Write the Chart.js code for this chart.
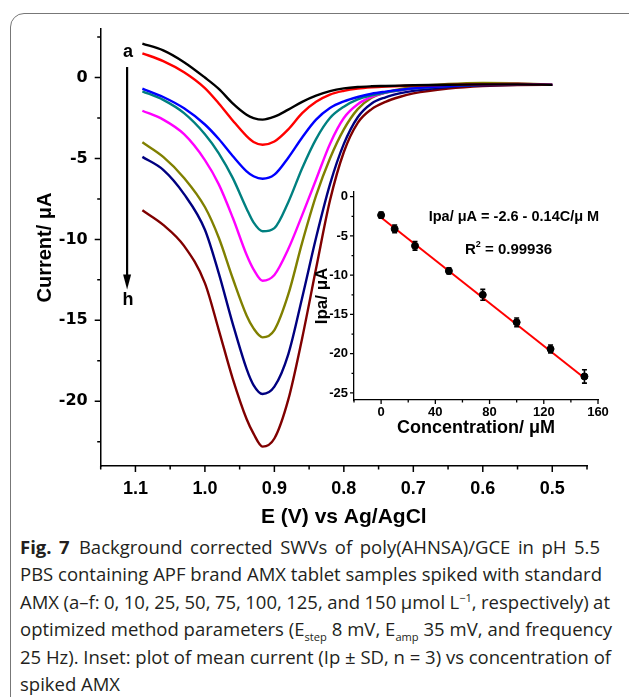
<!DOCTYPE html>
<html>
<head>
<meta charset="utf-8">
<script src="https://cdn.jsdelivr.net/npm/chart.js@4.4.1/dist/chart.umd.min.js"></script>
<style>
  html, body { margin: 0; padding: 0; background: #fff; }
  body { width: 629px; height: 697px; position: relative; overflow: hidden; }
  #frame { position: absolute; left: 10px; top: 13px; width: 640px; height: 720px; border: 1.5px solid #777; border-radius: 14px; box-sizing: border-box; }
  #main { position: absolute; left: 0; top: 0; }
  #inset { position: absolute; left: 300px; top: 175px; }
  #caption { position: absolute; left: 20px; top: 533px; width: 600px; font-family: "Open Sans", Lato, sans-serif; font-size: 17px; line-height: 27.4px; color: #231f20; }
  #caption div { white-space: nowrap; height: 27.4px; }
  #caption div span { display: inline-block; }
  #caption sub, #caption sup { font-size: 0.6em; line-height: 0; }
</style>
</head>
<body>
<div id="frame"></div>
<canvas id="main" width="629" height="530"></canvas>
<canvas id="inset" width="320" height="270"></canvas>
<div id="caption">
<div data-w="580"><span><b>Fig. 7</b>&ensp;Background corrected SWVs of poly(AHNSA)/GCE in pH 5.5</span></div>
<div data-w="582" id="refLine"><span>PBS containing APF brand AMX tablet samples spiked with standard</span></div>
<div data-w="590"><span>AMX (a–f: 0, 10, 25, 50, 75, 100, 125, and 150 µmol L<sup>−1</sup>, respectively) at</span></div>
<div data-w="592"><span>optimized method parameters (E<sub>step</sub> 8 mV, E<sub>amp</sub> 35 mV, and frequency</span></div>
<div data-w="591"><span>25 Hz). Inset: plot of mean current (Ip ± SD, n = 3) vs concentration of</span></div>
<div><span>spiked AMX</span></div>
</div>
<script>
// potential (V vs Ag/AgCl) shared by all voltammograms
const potential = [1.09, 1.06, 1.03, 1.00, 0.98, 0.96, 0.94, 0.93, 0.917, 0.90, 0.88, 0.86, 0.84, 0.82, 0.80, 0.78, 0.76, 0.74, 0.72, 0.70, 0.65, 0.60, 0.55, 0.50];

// current (uA), curves a..h
const curveA = [2.1, 1.68, 0.95, 0.0, -0.7, -1.6, -2.3, -2.5, -2.6, -2.42, -1.98, -1.5, -1.12, -0.84, -0.67, -0.58, -0.54, -0.52, -0.5, -0.48, -0.44, -0.42, -0.42, -0.45];
const curveB = [1.5, 1.02, 0.33, -0.65, -1.6, -2.65, -3.62, -3.98, -4.15, -3.95, -3.2, -2.2, -1.5, -1.05, -0.82, -0.68, -0.6, -0.55, -0.52, -0.5, -0.45, -0.42, -0.42, -0.45];
const curveC = [-0.68, -1.2, -1.9, -2.9, -3.8, -4.85, -5.8, -6.1, -6.25, -6.0, -4.95, -3.7, -2.6, -1.88, -1.47, -1.2, -1.0, -0.87, -0.76, -0.67, -0.52, -0.44, -0.42, -0.45];
const curveD = [-0.85, -1.38, -2.2, -3.5, -4.68, -6.2, -8.1, -8.95, -9.5, -9.3, -7.7, -5.6, -3.8, -2.5, -1.8, -1.35, -1.1, -0.92, -0.79, -0.68, -0.52, -0.44, -0.42, -0.45];
const curveE = [-2.05, -2.6, -3.5, -5.1, -6.6, -8.65, -10.95, -11.85, -12.55, -12.2, -10.6, -8.5, -6.3, -4.1, -2.5, -1.65, -1.2, -0.95, -0.8, -0.68, -0.5, -0.42, -0.4, -0.45];
const curveF = [-4.0, -4.9, -6.2, -8.0, -9.9, -12.4, -14.7, -15.5, -16.05, -15.6, -13.4, -10.2, -7.3, -5.0, -3.2, -1.95, -1.25, -0.92, -0.72, -0.58, -0.4, -0.33, -0.35, -0.45];
const curveG = [-4.9, -5.7, -7.2, -9.4, -12.1, -15.2, -18.0, -19.0, -19.55, -19.1, -17.1, -13.6, -9.9, -6.6, -4.1, -2.45, -1.6, -1.22, -0.98, -0.82, -0.58, -0.48, -0.44, -0.45];
const curveH = [-8.2, -9.1, -10.4, -12.7, -15.6, -18.6, -21.1, -22.0, -22.8, -22.3, -19.9, -16.1, -11.8, -7.6, -4.6, -2.8, -1.95, -1.5, -1.2, -0.98, -0.68, -0.52, -0.46, -0.45];
const curveNames = ['a', 'b', 'c', 'd', 'e', 'f', 'g', 'h'];
const curveColors = ['#000000', '#ff0000', '#0000ff', '#008080', '#ff00ff', '#808000', '#000080', '#800000'];

const xTickLabels = ['1.1', '1.0', '0.9', '0.8', '0.7', '0.6', '0.5'];
const yTickLabels = ['0', '-5', '-10', '-15', '-20'];

// arrow a -> h (in data units)
const arrowE = 1.112;
const arrowTop = 0.65, arrowTip = -13.1;
const labelTopY = 1.58, labelBottomY = -13.75;

// inset: peak current vs concentration
const conc = [0, 10, 25, 50, 75, 100, 125, 150];
const ipa = [-2.35, -4.1, -6.25, -9.45, -12.5, -16.0, -19.4, -22.9];
const ipaSD = [0.4, 0.5, 0.55, 0.4, 0.7, 0.55, 0.5, 0.85];
const fitX = [0, 150];
const fitY = [-2.65, -23.1];
const concTickLabels = ['0', '40', '80', '120', '160'];
const ipaTickLabels = ['0', '-5', '-10', '-15', '-20', '-25'];
const fitEquation = 'Ipa/ \u03bcA = -2.6 - 0.14C/\u03bc M';
const fitR2 = '0.99936';

// caption: size the font on one plain line, then even out the others with word spacing
const cap = document.getElementById('caption');
const refSpan = document.querySelector('#refLine span');
const baseSize = 17;
cap.style.fontSize = Math.min(20, baseSize * 582 / refSpan.getBoundingClientRect().width) + 'px';
document.querySelectorAll('#caption div[data-w]').forEach(d => {
  const span = d.querySelector('span');
  const gaps = (span.textContent.match(/[ \u00a0]/g) || []).length;
  const natural = span.getBoundingClientRect().width;
  if (gaps) span.style.wordSpacing = ((+d.dataset.w - natural) / gaps) + 'px';
});

const near = (a, b) => Math.abs(a - b) < 1e-6;

// outward tick marks, long on labelled values, short between
const tickMarks = {
  id: 'tickMarks',
  afterDraw(chart, args, opts) {
    const ctx = chart.ctx;
    const {x, y} = chart.scales;
    ctx.save();
    ctx.strokeStyle = '#000';
    ctx.lineWidth = opts.width;
    ctx.beginPath();
    x.ticks.forEach(t => {
      const px = x.getPixelForValue(t.value);
      const len = opts.majorX.some(m => near(m, t.value)) ? opts.big : opts.small;
      ctx.moveTo(px, x.top);
      ctx.lineTo(px, x.top + len);
    });
    y.ticks.forEach(t => {
      const py = y.getPixelForValue(t.value);
      const len = opts.majorY.some(m => near(m, t.value)) ? opts.big : opts.small;
      ctx.moveTo(y.right, py);
      ctx.lineTo(y.right - len, py);
    });
    ctx.stroke();
    ctx.restore();
  }
};

const arrowNote = {
  id: 'arrowNote',
  afterDraw(chart) {
    const ctx = chart.ctx;
    const {x, y} = chart.scales;
    const px = x.getPixelForValue(arrowE);
    const y0 = y.getPixelForValue(arrowTop), y1 = y.getPixelForValue(arrowTip);
    ctx.save();
    ctx.strokeStyle = '#000';
    ctx.fillStyle = '#000';
    ctx.lineWidth = 2.2;
    ctx.beginPath();
    ctx.moveTo(px, y0);
    ctx.lineTo(px, y1 - 12);
    ctx.stroke();
    ctx.beginPath();
    ctx.moveTo(px - 4, y1 - 15);
    ctx.lineTo(px + 4, y1 - 15);
    ctx.lineTo(px, y1);
    ctx.closePath();
    ctx.fill();
    ctx.font = 'bold 18px "Liberation Sans", Arial, sans-serif';
    ctx.textAlign = 'center';
    ctx.textBaseline = 'middle';
    ctx.fillText(curveNames[0], px + 1, y.getPixelForValue(labelTopY));
    ctx.fillText(curveNames[7], px + 1, y.getPixelForValue(labelBottomY));
    ctx.restore();
  }
};

const majorE = xTickLabels.map(Number);
const majorI = yTickLabels.map(Number);
const allCurves = [curveA, curveB, curveC, curveD, curveE, curveF, curveG, curveH];

new Chart(document.getElementById('main'), {
  type: 'line',
  data: {
    datasets: curveNames.map((n, i) => ({
      label: n,
      data: potential.map((e, j) => ({x: e, y: allCurves[i][j]})),
      borderColor: curveColors[i],
      borderWidth: 2.4,
      pointRadius: 0,
      fill: false,
      cubicInterpolationMode: 'monotone'
    }))
  },
  options: {
    responsive: false,
    animation: false,
    layout: {padding: {left: 0, right: 42, top: 29, bottom: 0}},
    plugins: {
      legend: {display: false},
      tooltip: {enabled: false},
      tickMarks: {big: 6, small: 3.5, width: 1.5, majorX: majorE, majorY: majorI}
    },
    scales: {
      x: {
        type: 'linear',
        reverse: true,
        min: 0.45,
        max: 1.15,
        grid: {display: false, drawTicks: false},
        border: {color: '#000', width: 1.5},
        afterBuildTicks: s => {
          const t = [];
          for (let i = 9; i <= 23; i++) t.push({value: i / 20});
          s.ticks = t;
        },
        afterFit: s => { s.height = 64; },
        ticks: {
          autoSkip: false,
          maxRotation: 0,
          padding: 12,
          color: '#000',
          font: {family: '"Liberation Sans", Arial, sans-serif', size: 18, weight: 'bold'},
          callback: v => {
            const k = majorE.findIndex(m => near(m, v));
            return k >= 0 ? xTickLabels[k] : '';
          }
        },
        title: {
          display: true,
          text: 'E (V) vs Ag/AgCl',
          color: '#000',
          padding: {top: 0, bottom: 0},
          font: {family: '"Liberation Sans", Arial, sans-serif', size: 21, weight: 'bold'}
        }
      },
      y: {
        type: 'linear',
        min: -24,
        max: 3,
        grid: {display: false, drawTicks: false},
        border: {color: '#000', width: 1.5},
        afterBuildTicks: s => {
          const t = [];
          for (let i = -9; i <= 1; i++) t.push({value: i * 2.5});
          s.ticks = t;
        },
        afterFit: s => { s.width = 100.7; },
        ticks: {
          autoSkip: false,
          padding: 13,
          color: '#000',
          font: {family: '"DejaVu Sans", sans-serif', size: 16, weight: 'bold'},
          callback: v => {
            const k = majorI.findIndex(m => near(m, v));
            return k >= 0 ? yTickLabels[k] : '';
          }
        },
        title: {
          display: true,
          text: 'Current/ \u03bcA',
          color: '#000',
          padding: {top: 33, bottom: 0},
          font: {family: '"Liberation Sans", Arial, sans-serif', size: 20, weight: 'bold'}
        }
      }
    }
  },
  plugins: [tickMarks, arrowNote]
});

// inset
const errorBars = {
  id: 'errorBars',
  afterDatasetsDraw(chart) {
    const ctx = chart.ctx;
    const {x, y} = chart.scales;
    ctx.save();
    ctx.strokeStyle = '#000';
    ctx.lineWidth = 1.6;
    ctx.beginPath();
    conc.forEach((c, i) => {
      const px = x.getPixelForValue(c);
      const top = y.getPixelForValue(ipa[i] + ipaSD[i]);
      const bot = y.getPixelForValue(ipa[i] - ipaSD[i]);
      ctx.moveTo(px, top); ctx.lineTo(px, bot);
      ctx.moveTo(px - 2.5, top); ctx.lineTo(px + 2.5, top);
      ctx.moveTo(px - 2.5, bot); ctx.lineTo(px + 2.5, bot);
    });
    ctx.stroke();
    ctx.restore();
  }
};

const fitText = {
  id: 'fitText',
  afterDraw(chart) {
    const ctx = chart.ctx;
    const {x, y} = chart.scales;
    ctx.save();
    ctx.fillStyle = '#000';
    ctx.textBaseline = 'middle';
    ctx.font = 'bold 14.5px "Liberation Sans", Arial, sans-serif';
    ctx.textAlign = 'center';
    ctx.fillText(fitEquation, x.getPixelForValue(98), y.getPixelForValue(-2.55));
    // R^2 line
    const big = 'bold 15px "Liberation Sans", Arial, sans-serif';
    const small = 'bold 9px "Liberation Sans", Arial, sans-serif';
    ctx.font = big;
    const wR = ctx.measureText('R').width;
    const wRest = ctx.measureText(' = ' + fitR2).width;
    ctx.font = small;
    const w2 = ctx.measureText('2').width;
    const cx = x.getPixelForValue(94), cy = y.getPixelForValue(-6.8);
    const sx = cx - (wR + w2 + wRest) / 2;
    ctx.textAlign = 'left';
    ctx.font = big;
    ctx.fillText('R', sx, cy);
    ctx.font = small;
    ctx.fillText('2', sx + wR, cy - 6);
    ctx.font = big;
    ctx.fillText(' = ' + fitR2, sx + wR + w2, cy);
    ctx.restore();
  }
};

const majorC = concTickLabels.map(Number);
const majorP = ipaTickLabels.map(Number);
const insetFont = {family: '"Liberation Sans", Arial, sans-serif', size: 13, weight: 'bold'};

new Chart(document.getElementById('inset'), {
  type: 'scatter',
  data: {
    datasets: [
      {
        label: 'Ipa',
        data: conc.map((c, i) => ({x: c, y: ipa[i]})),
        backgroundColor: '#000',
        borderColor: '#000',
        pointRadius: 3.5,
        pointHoverRadius: 3.5
      },
      {
        label: 'fit',
        data: fitX.map((c, i) => ({x: c, y: fitY[i]})),
        showLine: true,
        borderColor: '#ff0000',
        borderWidth: 2,
        pointRadius: 0
      }
    ]
  },
  options: {
    responsive: false,
    animation: false,
    layout: {padding: {left: 0, right: 22, top: 17, bottom: 0}},
    plugins: {
      legend: {display: false},
      tooltip: {enabled: false},
      tickMarks: {big: 4, small: 2.5, width: 1.3, majorX: majorC, majorY: majorP}
    },
    scales: {
      x: {
        type: 'linear',
        min: -20,
        max: 160,
        grid: {display: false, drawTicks: false},
        border: {color: '#000', width: 1.3},
        afterBuildTicks: s => {
          const t = [];
          for (let v = -20; v <= 160; v += 20) t.push({value: v});
          s.ticks = t;
        },
        afterFit: s => { s.height = 45; },
        ticks: {
          autoSkip: false,
          maxRotation: 0,
          padding: 5,
          color: '#000',
          font: insetFont,
          callback: v => {
            const k = majorC.findIndex(m => near(m, v));
            return k >= 0 ? concTickLabels[k] : '';
          }
        },
        title: {
          display: true,
          text: 'Concentration/ \u03bcM',
          color: '#000',
          padding: {top: 0, bottom: 6},
          font: {family: '"Liberation Sans", Arial, sans-serif', size: 18, weight: 'bold'}
        }
      },
      y: {
        type: 'linear',
        min: -25.9,
        max: 0.6,
        grid: {display: false, drawTicks: false},
        border: {color: '#000', width: 1.3},
        afterBuildTicks: s => {
          const t = [];
          for (let i = -10; i <= 0; i++) t.push({value: i * 2.5});
          s.ticks = t;
        },
        afterFit: s => { s.width = 54; },
        ticks: {
          autoSkip: false,
          padding: 6,
          color: '#000',
          font: insetFont,
          callback: v => {
            const k = majorP.findIndex(m => near(m, v));
            return k >= 0 ? ipaTickLabels[k] : '';
          }
        },
        title: {
          display: true,
          text: 'Ipa/ \u03bcA',
          color: '#000',
          padding: {top: 12, bottom: 0},
          font: {family: '"Liberation Sans", Arial, sans-serif', size: 17, weight: 'bold'}
        }
      }
    }
  },
  plugins: [tickMarks, errorBars, fitText]
});
</script>
</body>
</html>
